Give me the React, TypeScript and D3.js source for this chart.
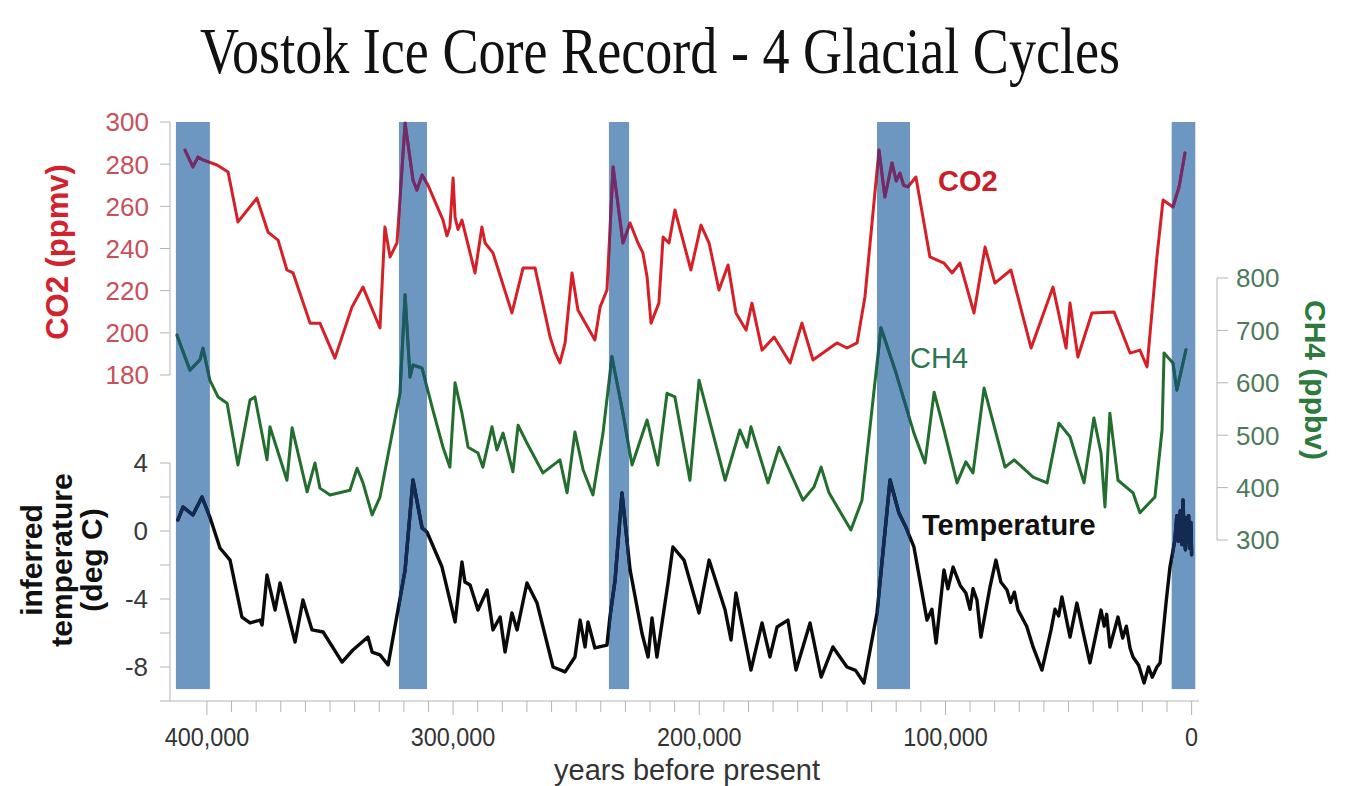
import React from 'react';
import * as d3 from 'd3';

const W = 1352;
const H = 786;

// Ages are in thousands of years before present.
const co2Series: [number, number][] = [
  [408.9, 286.7], [405.7, 278.7], [403.6, 283.4], [401.6, 282.0], [395.9, 279.6], [391.4, 276.3],
  [387.4, 252.6], [379.7, 263.9], [375.2, 247.8], [371.1, 244.0], [367.5, 229.8], [365.0, 228.4],
  [358.1, 204.6], [354.1, 204.6], [348.0, 188.0], [341.1, 212.2], [336.6, 221.7], [329.7, 202.3],
  [327.7, 250.2], [325.6, 236.0], [322.8, 242.6], [319.5, 299.5], [316.3, 272.5], [314.7, 267.7],
  [312.6, 274.9], [310.2, 270.1], [304.1, 253.5], [302.5, 246.0], [301.3, 250.2], [300.0, 273.4],
  [299.2, 254.9], [298.0, 249.0], [296.4, 253.5], [291.1, 228.4], [288.3, 250.2], [287.0, 242.6],
  [283.8, 237.9], [276.1, 209.4], [271.6, 230.7], [266.7, 230.7], [260.6, 198.0], [258.5, 190.5],
  [256.6, 185.7], [254.5, 195.2], [251.7, 228.4], [249.3, 210.8], [242.4, 196.6], [240.3, 212.2],
  [237.5, 220.3], [235.0, 278.7], [231.0, 242.6], [228.1, 252.1], [224.9, 242.6], [222.9, 237.9],
  [221.2, 226.5], [219.6, 204.6], [216.4, 214.1], [214.7, 245.4], [212.3, 242.6], [209.9, 258.3],
  [203.4, 229.8], [199.3, 251.1], [196.0, 242.6], [192.0, 220.3], [188.3, 232.2], [185.1, 209.4],
  [181.0, 201.3], [178.6, 214.1], [174.5, 191.8], [169.6, 198.0], [163.1, 185.7], [158.3, 204.6],
  [153.8, 187.1], [144.1, 195.2], [140.0, 192.8], [135.9, 195.2], [132.7, 217.0], [127.0, 286.7],
  [124.6, 264.4], [121.7, 280.6], [120.0, 272.0], [118.5, 275.8], [117.0, 270.0], [115.2, 269.2],
  [112.0, 273.9], [106.3, 236.0], [100.6, 233.1], [97.3, 228.4], [94.1, 233.1], [88.4, 209.4],
  [83.9, 240.7], [79.9, 223.6], [73.4, 229.8], [65.2, 192.8], [56.3, 221.7], [51.0, 192.8],
  [49.4, 214.1], [46.2, 188.5], [40.5, 209.4], [31.5, 209.9], [25.0, 190.4], [21.0, 191.8],
  [18.1, 183.8], [14.1, 236.0], [11.6, 263.0], [7.6, 259.7], [5.1, 269.2], [2.7, 285.3],
];

const ch4Series: [number, number][] = [
  [412.2, 691], [406.9, 624], [402.8, 644], [401.6, 666], [398.8, 605], [395.5, 573], [391.8, 561],
  [387.4, 443], [382.5, 567], [380.5, 573], [375.6, 453], [374.4, 516], [367.5, 414], [365.4, 514],
  [359.3, 392], [356.1, 447], [354.1, 399], [350.0, 386], [341.9, 395], [339.0, 437], [336.6, 409],
  [332.9, 348], [329.7, 382], [326.8, 453], [321.6, 580], [319.5, 768], [317.5, 611], [316.3, 634],
  [312.6, 628], [308.2, 548], [304.1, 477], [301.3, 439], [299.2, 600], [296.4, 542], [293.9, 477],
  [289.9, 466], [287.9, 439], [284.2, 516], [282.2, 472], [279.7, 504], [275.7, 430], [273.6, 519],
  [270.0, 485], [263.5, 428], [256.6, 453], [253.7, 390], [250.5, 506], [247.2, 434], [243.2, 386],
  [239.1, 504], [235.5, 650], [231.0, 542], [227.3, 443], [221.2, 529], [216.8, 443], [213.1, 580],
  [209.9, 573], [203.8, 414], [200.1, 605], [189.5, 414], [183.5, 510], [180.6, 477], [179.0, 516],
  [172.1, 409], [167.6, 477], [157.9, 376], [153.4, 401], [150.5, 439], [147.3, 390], [138.4, 319],
  [133.9, 376], [126.2, 705], [120.1, 619], [112.8, 504], [108.3, 447], [104.6, 582], [100.6, 510],
  [95.3, 409], [91.7, 449], [88.8, 428], [84.3, 590], [75.8, 439], [72.1, 453], [64.4, 420],
  [58.7, 409], [53.9, 523], [49.4, 497], [43.7, 409], [39.7, 533], [36.8, 466], [35.2, 363],
  [33.2, 542], [29.9, 414], [23.8, 390], [21.0, 352], [14.9, 382], [12.0, 510], [11.2, 657],
  [7.6, 638], [6.0, 586], [2.3, 663],
];

const tempSeries: [number, number][] = [
  [411.8, 0.65], [409.7, 1.41], [405.7, 0.94], [402.0, 2.0], [398.8, 0.82], [394.7, -1.0],
  [390.6, -1.71], [385.8, -5.06], [382.5, -5.41], [378.4, -5.24], [377.6, -5.53], [375.6, -2.59],
  [372.3, -4.65], [370.3, -3.06], [364.2, -6.53], [361.0, -4.06], [357.3, -5.82], [352.8, -5.94],
  [345.1, -7.71], [340.7, -7.0], [334.6, -6.24], [332.9, -7.12], [329.7, -7.29], [326.4, -7.88],
  [319.5, -2.29], [316.3, 3.0], [312.6, 0.18], [310.6, -0.06], [304.5, -2.12], [299.2, -5.35],
  [296.4, -1.82], [295.2, -3.0], [293.1, -3.18], [289.9, -4.65], [286.2, -3.47], [283.8, -5.82],
  [280.9, -5.06], [278.9, -7.12], [276.1, -4.82], [274.0, -5.82], [270.0, -3.06], [265.9, -4.24],
  [259.4, -8.0], [254.5, -8.29], [250.5, -7.41], [248.4, -5.24], [246.4, -6.82], [245.2, -5.35],
  [242.4, -6.88], [237.5, -6.71], [236.3, -5.06], [234.2, -2.88], [231.4, 2.24], [228.1, -2.29],
  [223.3, -6.0], [220.8, -7.41], [219.2, -5.12], [217.2, -7.41], [212.7, -3.06], [210.7, -0.94],
  [206.2, -1.71], [200.1, -4.82], [196.0, -1.71], [189.5, -4.65], [187.1, -6.41], [185.1, -3.65],
  [179.0, -8.18], [174.5, -5.41], [171.3, -7.41], [168.4, -5.65], [164.0, -5.24], [160.7, -8.18],
  [155.0, -5.41], [150.5, -8.59], [145.7, -6.82], [140.0, -8.0], [136.5, -8.2], [133.1, -8.94],
  [127.8, -4.82], [122.5, 3.0], [118.9, 1.06], [116.0, 0.2], [112.8, -0.94], [107.5, -5.24],
  [105.5, -4.6], [103.8, -6.59], [100.6, -2.29], [99.0, -3.4], [96.9, -2.12], [94.0, -3.2],
  [91.7, -3.65], [90.0, -4.6], [88.8, -3.4], [87.2, -4.06], [85.6, -6.24], [81.9, -3.29],
  [79.5, -1.71], [77.5, -3.0], [75.0, -3.47], [73.5, -4.2], [72.0, -3.6], [70.5, -4.65],
  [67.0, -5.6], [64.4, -6.82], [60.8, -8.18], [57.1, -5.82], [55.5, -4.6], [54.0, -5.0],
  [52.7, -3.88], [49.4, -6.24], [46.6, -4.24], [44.0, -6.0], [41.3, -7.76], [36.8, -4.65],
  [35.5, -5.6], [34.5, -4.9], [33.2, -6.82], [29.9, -5.06], [28.0, -6.3], [26.5, -5.6],
  [25.0, -6.9], [23.8, -7.41], [21.5, -7.9], [19.3, -8.94], [17.5, -8.0], [16.0, -8.6],
  [14.1, -8.0], [12.8, -7.76], [10.4, -4.24], [8.8, -2.12], [6.8, -0.53], [6.0, 0.9],
  [5.4, -0.6], [4.6, 1.2], [3.9, -0.8], [3.5, 1.82], [3.0, -0.4], [2.5, -1.1], [2.0, 0.8],
  [1.6, -0.6], [1.2, 0.9], [0.8, -1.0], [0.3, 0.5], [0.0, -1.4],
];

// Interglacial periods (start, end), thousands of years before present.
const interglacials: [number, number][] = [
  [412.6, 398.8], [322.0, 310.6], [236.7, 228.5], [127.8, 114.4], [8.1, -1.5],
];

const co2Ticks = [180, 200, 220, 240, 260, 280, 300];
const tempTicks = [-10, -8, -6, -4, -2, 0, 2, 4];
const tempLabels = [-8, -4, 0, 4];
const ch4Ticks = [300, 400, 500, 600, 700, 800];
const ageTicks = d3.range(0, 401, 10);
const ageLabels = [400, 300, 200, 100, 0];

const SANS = '"Liberation Sans", Arial, Helvetica, sans-serif';
const SERIF = '"Liberation Serif", "Times New Roman", serif';

const COL = {
  bar: '#6d97c1',
  co2: '#d62028',
  co2In: '#6c2d6c',
  ch4: '#236d2e',
  ch4In: '#1b5a62',
  temp: '#0a0a0a',
  tempIn: '#132a52',
  axis: '#b4b4b4',
};

type Pt = [number, number];

export default function App() {
  const x = d3.scaleLinear().domain([415, -3]).range([170, 1199]);
  const yCo2 = d3.scaleLinear().domain([180, 300]).range([375, 122]);
  const yTemp = d3.scaleLinear().domain([-10, 4]).range([701, 463]);
  const yCh4 = d3.scaleLinear().domain([300, 800]).range([540, 278]);

  const lineCo2 = d3.line<Pt>().x((d) => x(d[0])).y((d) => yCo2(d[1]));
  const lineCh4 = d3.line<Pt>().x((d) => x(d[0])).y((d) => yCh4(d[1]));
  const lineTemp = d3.line<Pt>().x((d) => x(d[0])).y((d) => yTemp(d[1]));

  const fmtAge = (k: number) => d3.format(',')(k * 1000);

  const barTop = yCo2(300);
  const barBottom = yTemp(-9.3);
  const axisY = yTemp(-10);

  const dCo2 = lineCo2(co2Series) || '';
  const dCh4 = lineCh4(ch4Series) || '';
  const dTemp = lineTemp(tempSeries) || '';

  const lineProps = { fill: 'none', strokeLinejoin: 'round' as const, strokeLinecap: 'round' as const };

  return (
    <svg
      width={W}
      height={H}
      viewBox={`0 0 ${W} ${H}`}
      style={{ position: 'absolute', left: 0, top: 0, background: '#fff' }}
    >
      <defs>
        <clipPath id="interglacial-clip">
          {interglacials.map(([a, b], i) => (
            <rect key={i} x={x(a)} y={barTop} width={x(b) - x(a)} height={barBottom - barTop} />
          ))}
        </clipPath>
      </defs>

      {/* title */}
      <text
        transform="translate(660,73) scale(0.82,1)"
        textAnchor="middle"
        fontFamily={SERIF}
        fontSize={66}
        fill="#111"
      >
        Vostok Ice Core Record - 4 Glacial Cycles
      </text>

      {/* interglacial bands */}
      {interglacials.map(([a, b], i) => (
        <rect key={i} x={x(a)} y={barTop} width={x(b) - x(a)} height={barBottom - barTop} fill={COL.bar} />
      ))}

      {/* series */}
      <path d={dCo2} stroke={COL.co2} strokeWidth={3} {...lineProps} />
      <path d={dCh4} stroke={COL.ch4} strokeWidth={3} {...lineProps} />
      <path d={dTemp} stroke={COL.temp} strokeWidth={3.4} {...lineProps} />

      {/* series tinted where they cross the interglacial bands */}
      <g clipPath="url(#interglacial-clip)">
        <path d={dCo2} stroke={COL.co2In} strokeWidth={3} {...lineProps} />
        <path d={dCh4} stroke={COL.ch4In} strokeWidth={3} {...lineProps} />
        <path d={dTemp} stroke={COL.tempIn} strokeWidth={3.4} {...lineProps} />
      </g>

      {/* CO2 axis (left, upper) */}
      <line x1={170} x2={170} y1={yCo2(300)} y2={yCo2(180)} stroke={COL.axis} />
      {co2Ticks.map((t) => (
        <g key={t}>
          <line x1={160} x2={170} y1={yCo2(t)} y2={yCo2(t)} stroke={COL.axis} />
          <text x={149} y={yCo2(t)} dy="0.36em" textAnchor="end" fontFamily={SANS} fontSize={26} fill="#c8505a">
            {t}
          </text>
        </g>
      ))}
      <text
        transform="translate(57,252) rotate(-90)"
        textAnchor="middle"
        dy="0.36em"
        fontFamily={SANS}
        fontWeight="bold"
        fontSize={31}
        fill="#d2222e"
      >
        CO2 (ppmv)
      </text>

      {/* temperature axis (left, lower) */}
      <line x1={170} x2={170} y1={yTemp(4)} y2={yTemp(-10)} stroke={COL.axis} />
      {tempTicks.map((t) => (
        <line key={t} x1={160} x2={170} y1={yTemp(t)} y2={yTemp(t)} stroke={COL.axis} />
      ))}
      {tempLabels.map((t) => (
        <text key={t} x={148} y={yTemp(t)} dy="0.36em" textAnchor="end" fontFamily={SANS} fontSize={26} fill="#3a3a3a">
          {t}
        </text>
      ))}
      <text
        transform="translate(61,560) rotate(-90)"
        textAnchor="middle"
        fontFamily={SANS}
        fontWeight="bold"
        fontSize={30}
        fill="#111"
      >
        <tspan x={0} dy="-0.62em">inferred</tspan>
        <tspan x={0} dy="1.0em">temperature</tspan>
        <tspan x={0} dy="1.0em">(deg C)</tspan>
      </text>

      {/* CH4 axis (right) */}
      <line x1={1217} x2={1217} y1={yCh4(800)} y2={yCh4(300)} stroke={COL.axis} />
      {ch4Ticks.map((t) => (
        <g key={t}>
          <line x1={1217} x2={1228} y1={yCh4(t)} y2={yCh4(t)} stroke={COL.axis} />
          <text x={1236} y={yCh4(t)} dy="0.36em" textAnchor="start" fontFamily={SANS} fontSize={26} fill="#4d7a5c">
            {t}
          </text>
        </g>
      ))}
      <text
        transform="translate(1316,380) rotate(90)"
        textAnchor="middle"
        dy="0.36em"
        fontFamily={SANS}
        fontWeight="bold"
        fontSize={30}
        fill="#2c7a3c"
      >
        CH4 (ppbv)
      </text>

      {/* age axis (bottom) */}
      <line x1={170} x2={1199} y1={axisY} y2={axisY} stroke={COL.axis} />
      {ageTicks.map((t) => (
        <line key={t} x1={x(t)} x2={x(t)} y1={axisY} y2={axisY + (t % 100 === 0 ? 14 : 11)} stroke={COL.axis} />
      ))}
      {ageLabels.map((t) => (
        <text
          key={t}
          transform={`translate(${x(t)},746) scale(0.9,1)`}
          textAnchor="middle"
          fontFamily={SANS}
          fontSize={26}
          fill="#333"
        >
          {fmtAge(t)}
        </text>
      ))}
      <text x={687} y={780} textAnchor="middle" fontFamily={SANS} fontSize={29} fill="#333">
        years before present
      </text>

      {/* series labels */}
      <text x={938} y={191} fontFamily={SANS} fontWeight="bold" fontSize={29} fill="#c8202a">
        CO2
      </text>
      <text x={910} y={368} fontFamily={SANS} fontSize={29} fill="#2b7550">
        CH4
      </text>
      <text x={922} y={535} fontFamily={SANS} fontWeight="bold" fontSize={29} fill="#111">
        Temperature
      </text>
    </svg>
  );
}
